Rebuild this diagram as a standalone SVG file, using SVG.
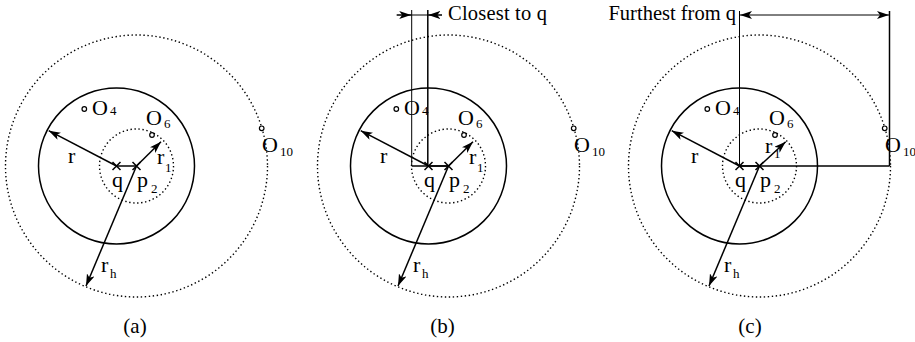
<svg xmlns="http://www.w3.org/2000/svg" width="915" height="342" viewBox="0 0 915 342">
<style>
.bg{fill:#fff}
.dot{fill:none;stroke:#000;stroke-width:1.4;stroke-dasharray:1.4 2.6}
.solid{fill:none;stroke:#000;stroke-width:1.5}
.obj{fill:#fff;stroke:#000;stroke-width:1.2}
.ln{fill:none;stroke:#000;stroke-width:1.5}
.thin{fill:none;stroke:#000;stroke-width:1}
.arr{marker-end:url(#ah)}
.lbl{font-family:"Liberation Serif","Times New Roman",serif;font-size:22px;fill:#000}
.sub{font-family:"Liberation Serif","Times New Roman",serif;font-size:13px;fill:#000}
.cap{font-family:"Liberation Serif","Times New Roman",serif;font-size:20.5px;fill:#000}
.pl{font-family:"Liberation Serif","Times New Roman",serif;font-size:21px;fill:#000}
</style>
<defs>
<marker id="ah" viewBox="0 0 12 8" refX="12" refY="4" markerWidth="12" markerHeight="8" markerUnits="userSpaceOnUse" orient="auto">
<path d="M0,0 L12,4 L0,8 L3,4 Z" fill="#000"/>
</marker>
<g id="panel">
<circle class="dot" cx="136.5" cy="166" r="131"/>
<circle class="solid" cx="116.5" cy="166" r="78"/>
<circle class="dot" cx="136.5" cy="166" r="37"/>
<circle class="obj" cx="84.3" cy="109" r="2.3"/>
<circle class="obj" cx="152" cy="135" r="2.3"/>
<circle class="obj" cx="261.7" cy="128.3" r="2.3"/>
<line class="ln arr" x1="116.5" y1="166" x2="48.7" y2="130.7"/>
<line class="ln arr" x1="136.5" y1="166" x2="86" y2="286"/>
<line class="ln" x1="116.5" y1="166" x2="136.5" y2="166"/>
<path class="ln" d="M112.5,162 l8,8 M112.5,170 l8,-8 M132.5,162 l8,8 M132.5,170 l8,-8"/>
<text class="lbl" x="68" y="163">r</text>
<text class="lbl" x="112" y="187">q</text>
<text class="lbl" x="137" y="187">p</text><text class="sub" x="151" y="193">2</text>
<text class="lbl" x="101" y="272">r</text><text class="sub" x="110" y="278">h</text>
<text class="lbl" x="92" y="115">O</text><text class="sub" x="110" y="115">4</text>
<text class="lbl" x="146" y="125">O</text><text class="sub" x="164" y="128">6</text>
<text class="lbl" x="262" y="152">O</text><text class="sub" x="280" y="156">10</text>
</g>
</defs>
<rect class="bg" x="0" y="0" width="915" height="342"/>

<g id="panel-a">
<use href="#panel"/>
<line class="ln arr" x1="136.5" y1="166" x2="161" y2="141.7"/>
<text class="lbl" x="157" y="164">r</text><text class="sub" x="165" y="172">1</text>
<text class="pl" x="135" y="333" text-anchor="middle">(a)</text>
</g>

<g id="panel-b">
<use href="#panel" transform="translate(312,0)"/>
<line class="ln arr" x1="448.5" y1="166" x2="473" y2="141.7"/>
<text class="lbl" x="469" y="164">r</text><text class="sub" x="477" y="172">1</text>
<text class="pl" x="442.5" y="333" text-anchor="middle">(b)</text>
</g>

<g id="panel-c">
<use href="#panel" transform="translate(623,0)"/>
<line class="ln arr" x1="759.5" y1="166" x2="785.7" y2="141.7"/>
<text class="lbl" x="765" y="153">r</text><text class="sub" x="774" y="158">1</text>
<text class="pl" x="750" y="333" text-anchor="middle">(c)</text>
</g>

<g id="connectors">
<line class="thin" x1="411.7" y1="10" x2="411.7" y2="166"/>
<line class="ln" x1="427.8" y1="10" x2="427.8" y2="166"/>
<line class="ln" x1="411.7" y1="166" x2="448.5" y2="166"/>
<line class="thin" x1="396.5" y1="15" x2="442" y2="15"/>
<line class="thin arr" x1="397" y1="15" x2="411.2" y2="15"/>
<line class="thin arr" x1="442" y1="15" x2="428.3" y2="15"/>
<line class="thin" x1="739.5" y1="11" x2="739.5" y2="166"/>
<line class="ln" x1="889.5" y1="11" x2="889.5" y2="166"/>
<line class="ln" x1="739.5" y1="166" x2="889.5" y2="166"/>
<line class="thin arr" x1="815" y1="15" x2="740" y2="15"/>
<line class="thin arr" x1="815" y1="15" x2="889" y2="15"/>
</g>

<g id="labels">
<text class="cap" x="448" y="20" textLength="99" lengthAdjust="spacing">Closest to q</text>
<text class="cap" x="736" y="20" text-anchor="end">Furthest from q</text>
</g>
</svg>
